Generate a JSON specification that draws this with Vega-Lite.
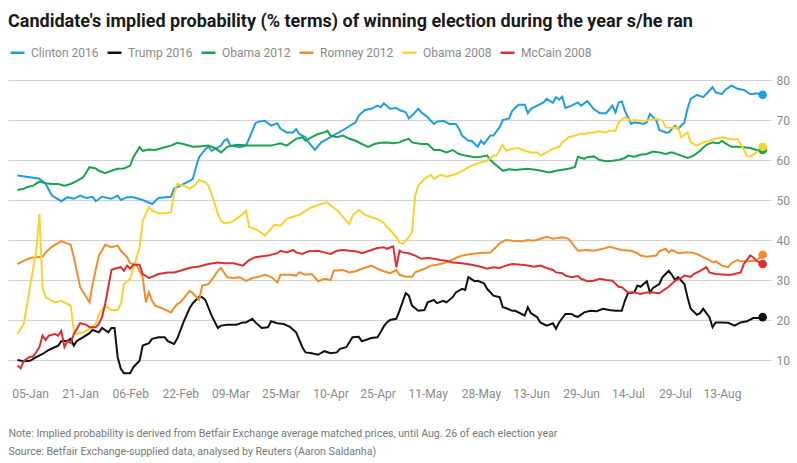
{
"$schema": "https://vega.github.io/schema/vega-lite/v6.json",
"width": 763, "height": 304,
"autosize": {"type": "none"},
"padding": {"left": 8, "top": 72, "right": 26, "bottom": 87},
"background": "white",
"config": {"view": {"stroke": null}, "font": "Roboto"},
"title": {"text": "Candidate's implied probability (% terms) of winning election during the year s/he ran", "anchor": "start", "frame": "group", "font": "Roboto", "fontSize": 18, "fontWeight": "bold", "color": "#1a1a1a", "offset": 13},
"data": {"values": [
{"series":"Clinton 2016","date":"2016-01-01","pct":56.1},{"series":"Clinton 2016","date":"2016-01-05","pct":55.7},{"series":"Clinton 2016","date":"2016-01-08","pct":55.3},{"series":"Clinton 2016","date":"2016-01-10","pct":54.0},{"series":"Clinton 2016","date":"2016-01-12","pct":51.1},{"series":"Clinton 2016","date":"2016-01-15","pct":49.7},{"series":"Clinton 2016","date":"2016-01-17","pct":50.7},{"series":"Clinton 2016","date":"2016-01-19","pct":50.3},{"series":"Clinton 2016","date":"2016-01-21","pct":51.1},{"series":"Clinton 2016","date":"2016-01-23","pct":50.5},{"series":"Clinton 2016","date":"2016-01-25","pct":50.8},{"series":"Clinton 2016","date":"2016-01-26","pct":49.7},{"series":"Clinton 2016","date":"2016-01-28","pct":50.8},{"series":"Clinton 2016","date":"2016-01-31","pct":50.3},{"series":"Clinton 2016","date":"2016-02-02","pct":51.1},{"series":"Clinton 2016","date":"2016-02-03","pct":50.0},{"series":"Clinton 2016","date":"2016-02-05","pct":50.7},{"series":"Clinton 2016","date":"2016-02-07","pct":50.7},{"series":"Clinton 2016","date":"2016-02-10","pct":50.0},{"series":"Clinton 2016","date":"2016-02-13","pct":49.0},{"series":"Clinton 2016","date":"2016-02-15","pct":50.5},{"series":"Clinton 2016","date":"2016-02-19","pct":50.8},{"series":"Clinton 2016","date":"2016-02-20","pct":52.8},{"series":"Clinton 2016","date":"2016-02-22","pct":53.6},{"series":"Clinton 2016","date":"2016-02-25","pct":54.8},{"series":"Clinton 2016","date":"2016-02-26","pct":55.3},{"series":"Clinton 2016","date":"2016-02-27","pct":58.2},{"series":"Clinton 2016","date":"2016-02-28","pct":60.7},{"series":"Clinton 2016","date":"2016-03-01","pct":62.7},{"series":"Clinton 2016","date":"2016-03-02","pct":63.3},{"series":"Clinton 2016","date":"2016-03-03","pct":62.3},{"series":"Clinton 2016","date":"2016-03-05","pct":63.1},{"series":"Clinton 2016","date":"2016-03-06","pct":63.6},{"series":"Clinton 2016","date":"2016-03-07","pct":64.8},{"series":"Clinton 2016","date":"2016-03-08","pct":65.2},{"series":"Clinton 2016","date":"2016-03-09","pct":63.6},{"series":"Clinton 2016","date":"2016-03-12","pct":63.2},{"series":"Clinton 2016","date":"2016-03-14","pct":63.6},{"series":"Clinton 2016","date":"2016-03-16","pct":67.3},{"series":"Clinton 2016","date":"2016-03-17","pct":69.2},{"series":"Clinton 2016","date":"2016-03-18","pct":69.6},{"series":"Clinton 2016","date":"2016-03-20","pct":69.8},{"series":"Clinton 2016","date":"2016-03-22","pct":68.6},{"series":"Clinton 2016","date":"2016-03-24","pct":69.2},{"series":"Clinton 2016","date":"2016-03-25","pct":67.8},{"series":"Clinton 2016","date":"2016-03-27","pct":66.9},{"series":"Clinton 2016","date":"2016-03-29","pct":66.9},{"series":"Clinton 2016","date":"2016-03-30","pct":67.7},{"series":"Clinton 2016","date":"2016-03-31","pct":66.5},{"series":"Clinton 2016","date":"2016-04-02","pct":65.7},{"series":"Clinton 2016","date":"2016-04-03","pct":64.4},{"series":"Clinton 2016","date":"2016-04-05","pct":62.5},{"series":"Clinton 2016","date":"2016-04-07","pct":64.4},{"series":"Clinton 2016","date":"2016-04-10","pct":65.7},{"series":"Clinton 2016","date":"2016-04-14","pct":67.5},{"series":"Clinton 2016","date":"2016-04-18","pct":69.4},{"series":"Clinton 2016","date":"2016-04-19","pct":71.1},{"series":"Clinton 2016","date":"2016-04-21","pct":72.5},{"series":"Clinton 2016","date":"2016-04-23","pct":72.8},{"series":"Clinton 2016","date":"2016-04-25","pct":73.6},{"series":"Clinton 2016","date":"2016-04-26","pct":73.2},{"series":"Clinton 2016","date":"2016-04-27","pct":74.2},{"series":"Clinton 2016","date":"2016-04-29","pct":72.8},{"series":"Clinton 2016","date":"2016-05-01","pct":73.0},{"series":"Clinton 2016","date":"2016-05-02","pct":72.5},{"series":"Clinton 2016","date":"2016-05-04","pct":71.9},{"series":"Clinton 2016","date":"2016-05-05","pct":70.4},{"series":"Clinton 2016","date":"2016-05-06","pct":71.1},{"series":"Clinton 2016","date":"2016-05-08","pct":72.8},{"series":"Clinton 2016","date":"2016-05-09","pct":71.9},{"series":"Clinton 2016","date":"2016-05-11","pct":70.7},{"series":"Clinton 2016","date":"2016-05-13","pct":69.0},{"series":"Clinton 2016","date":"2016-05-14","pct":69.6},{"series":"Clinton 2016","date":"2016-05-16","pct":69.8},{"series":"Clinton 2016","date":"2016-05-18","pct":69.0},{"series":"Clinton 2016","date":"2016-05-20","pct":69.0},{"series":"Clinton 2016","date":"2016-05-21","pct":67.8},{"series":"Clinton 2016","date":"2016-05-22","pct":66.1},{"series":"Clinton 2016","date":"2016-05-24","pct":64.8},{"series":"Clinton 2016","date":"2016-05-25","pct":64.8},{"series":"Clinton 2016","date":"2016-05-27","pct":63.3},{"series":"Clinton 2016","date":"2016-05-28","pct":64.8},{"series":"Clinton 2016","date":"2016-05-29","pct":64.0},{"series":"Clinton 2016","date":"2016-05-31","pct":66.1},{"series":"Clinton 2016","date":"2016-06-01","pct":66.1},{"series":"Clinton 2016","date":"2016-06-03","pct":68.2},{"series":"Clinton 2016","date":"2016-06-04","pct":70.0},{"series":"Clinton 2016","date":"2016-06-06","pct":70.4},{"series":"Clinton 2016","date":"2016-06-07","pct":72.3},{"series":"Clinton 2016","date":"2016-06-09","pct":73.8},{"series":"Clinton 2016","date":"2016-06-11","pct":73.8},{"series":"Clinton 2016","date":"2016-06-12","pct":71.7},{"series":"Clinton 2016","date":"2016-06-13","pct":72.8},{"series":"Clinton 2016","date":"2016-06-15","pct":73.6},{"series":"Clinton 2016","date":"2016-06-17","pct":74.4},{"series":"Clinton 2016","date":"2016-06-18","pct":75.3},{"series":"Clinton 2016","date":"2016-06-20","pct":74.3},{"series":"Clinton 2016","date":"2016-06-21","pct":75.7},{"series":"Clinton 2016","date":"2016-06-22","pct":75.1},{"series":"Clinton 2016","date":"2016-06-23","pct":75.8},{"series":"Clinton 2016","date":"2016-06-24","pct":73.0},{"series":"Clinton 2016","date":"2016-06-26","pct":73.6},{"series":"Clinton 2016","date":"2016-06-28","pct":74.4},{"series":"Clinton 2016","date":"2016-06-29","pct":73.6},{"series":"Clinton 2016","date":"2016-07-01","pct":74.7},{"series":"Clinton 2016","date":"2016-07-03","pct":72.8},{"series":"Clinton 2016","date":"2016-07-05","pct":71.7},{"series":"Clinton 2016","date":"2016-07-07","pct":71.7},{"series":"Clinton 2016","date":"2016-07-09","pct":73.6},{"series":"Clinton 2016","date":"2016-07-10","pct":71.9},{"series":"Clinton 2016","date":"2016-07-11","pct":74.4},{"series":"Clinton 2016","date":"2016-07-12","pct":74.7},{"series":"Clinton 2016","date":"2016-07-13","pct":72.3},{"series":"Clinton 2016","date":"2016-07-15","pct":69.0},{"series":"Clinton 2016","date":"2016-07-16","pct":69.4},{"series":"Clinton 2016","date":"2016-07-18","pct":69.2},{"series":"Clinton 2016","date":"2016-07-19","pct":69.0},{"series":"Clinton 2016","date":"2016-07-20","pct":69.4},{"series":"Clinton 2016","date":"2016-07-21","pct":71.5},{"series":"Clinton 2016","date":"2016-07-23","pct":70.0},{"series":"Clinton 2016","date":"2016-07-24","pct":67.5},{"series":"Clinton 2016","date":"2016-07-26","pct":66.9},{"series":"Clinton 2016","date":"2016-07-27","pct":66.9},{"series":"Clinton 2016","date":"2016-07-29","pct":68.6},{"series":"Clinton 2016","date":"2016-07-30","pct":67.8},{"series":"Clinton 2016","date":"2016-08-01","pct":69.4},{"series":"Clinton 2016","date":"2016-08-02","pct":72.8},{"series":"Clinton 2016","date":"2016-08-03","pct":75.3},{"series":"Clinton 2016","date":"2016-08-05","pct":76.3},{"series":"Clinton 2016","date":"2016-08-07","pct":75.7},{"series":"Clinton 2016","date":"2016-08-08","pct":76.5},{"series":"Clinton 2016","date":"2016-08-10","pct":78.2},{"series":"Clinton 2016","date":"2016-08-11","pct":76.9},{"series":"Clinton 2016","date":"2016-08-13","pct":76.5},{"series":"Clinton 2016","date":"2016-08-14","pct":77.5},{"series":"Clinton 2016","date":"2016-08-16","pct":78.6},{"series":"Clinton 2016","date":"2016-08-18","pct":77.8},{"series":"Clinton 2016","date":"2016-08-20","pct":77.5},{"series":"Clinton 2016","date":"2016-08-22","pct":76.5},{"series":"Clinton 2016","date":"2016-08-23","pct":76.5},{"series":"Clinton 2016","date":"2016-08-24","pct":76.7},{"series":"Clinton 2016","date":"2016-08-26","pct":76.3},
{"series":"Trump 2016","date":"2016-01-01","pct":10.0},{"series":"Trump 2016","date":"2016-01-03","pct":9.7},{"series":"Trump 2016","date":"2016-01-05","pct":9.8},{"series":"Trump 2016","date":"2016-01-07","pct":10.7},{"series":"Trump 2016","date":"2016-01-09","pct":11.5},{"series":"Trump 2016","date":"2016-01-11","pct":12.5},{"series":"Trump 2016","date":"2016-01-14","pct":13.6},{"series":"Trump 2016","date":"2016-01-15","pct":14.7},{"series":"Trump 2016","date":"2016-01-17","pct":14.8},{"series":"Trump 2016","date":"2016-01-18","pct":15.3},{"series":"Trump 2016","date":"2016-01-19","pct":13.6},{"series":"Trump 2016","date":"2016-01-20","pct":14.8},{"series":"Trump 2016","date":"2016-01-22","pct":15.7},{"series":"Trump 2016","date":"2016-01-24","pct":16.7},{"series":"Trump 2016","date":"2016-01-25","pct":17.5},{"series":"Trump 2016","date":"2016-01-27","pct":16.9},{"series":"Trump 2016","date":"2016-01-28","pct":18.0},{"series":"Trump 2016","date":"2016-01-30","pct":16.9},{"series":"Trump 2016","date":"2016-01-31","pct":18.0},{"series":"Trump 2016","date":"2016-02-01","pct":18.0},{"series":"Trump 2016","date":"2016-02-02","pct":10.7},{"series":"Trump 2016","date":"2016-02-03","pct":7.8},{"series":"Trump 2016","date":"2016-02-04","pct":6.7},{"series":"Trump 2016","date":"2016-02-06","pct":6.7},{"series":"Trump 2016","date":"2016-02-07","pct":8.2},{"series":"Trump 2016","date":"2016-02-09","pct":9.8},{"series":"Trump 2016","date":"2016-02-10","pct":13.6},{"series":"Trump 2016","date":"2016-02-12","pct":14.2},{"series":"Trump 2016","date":"2016-02-13","pct":15.3},{"series":"Trump 2016","date":"2016-02-15","pct":15.7},{"series":"Trump 2016","date":"2016-02-17","pct":15.7},{"series":"Trump 2016","date":"2016-02-18","pct":14.7},{"series":"Trump 2016","date":"2016-02-20","pct":14.0},{"series":"Trump 2016","date":"2016-02-21","pct":15.3},{"series":"Trump 2016","date":"2016-02-23","pct":19.4},{"series":"Trump 2016","date":"2016-02-25","pct":23.0},{"series":"Trump 2016","date":"2016-02-26","pct":24.2},{"series":"Trump 2016","date":"2016-02-27","pct":25.0},{"series":"Trump 2016","date":"2016-02-28","pct":25.8},{"series":"Trump 2016","date":"2016-02-29","pct":25.7},{"series":"Trump 2016","date":"2016-03-01","pct":25.0},{"series":"Trump 2016","date":"2016-03-03","pct":21.1},{"series":"Trump 2016","date":"2016-03-05","pct":18.0},{"series":"Trump 2016","date":"2016-03-06","pct":18.6},{"series":"Trump 2016","date":"2016-03-08","pct":18.8},{"series":"Trump 2016","date":"2016-03-11","pct":18.8},{"series":"Trump 2016","date":"2016-03-13","pct":19.4},{"series":"Trump 2016","date":"2016-03-14","pct":19.4},{"series":"Trump 2016","date":"2016-03-16","pct":20.3},{"series":"Trump 2016","date":"2016-03-17","pct":19.4},{"series":"Trump 2016","date":"2016-03-19","pct":18.0},{"series":"Trump 2016","date":"2016-03-21","pct":18.2},{"series":"Trump 2016","date":"2016-03-22","pct":19.7},{"series":"Trump 2016","date":"2016-03-24","pct":19.2},{"series":"Trump 2016","date":"2016-03-26","pct":19.0},{"series":"Trump 2016","date":"2016-03-28","pct":18.3},{"series":"Trump 2016","date":"2016-03-30","pct":16.9},{"series":"Trump 2016","date":"2016-04-01","pct":13.2},{"series":"Trump 2016","date":"2016-04-02","pct":11.9},{"series":"Trump 2016","date":"2016-04-04","pct":11.7},{"series":"Trump 2016","date":"2016-04-06","pct":11.3},{"series":"Trump 2016","date":"2016-04-08","pct":12.2},{"series":"Trump 2016","date":"2016-04-10","pct":11.7},{"series":"Trump 2016","date":"2016-04-12","pct":11.9},{"series":"Trump 2016","date":"2016-04-13","pct":12.8},{"series":"Trump 2016","date":"2016-04-15","pct":13.2},{"series":"Trump 2016","date":"2016-04-17","pct":15.7},{"series":"Trump 2016","date":"2016-04-19","pct":15.8},{"series":"Trump 2016","date":"2016-04-20","pct":14.7},{"series":"Trump 2016","date":"2016-04-23","pct":15.5},{"series":"Trump 2016","date":"2016-04-25","pct":15.7},{"series":"Trump 2016","date":"2016-04-26","pct":17.0},{"series":"Trump 2016","date":"2016-04-27","pct":18.4},{"series":"Trump 2016","date":"2016-04-28","pct":19.4},{"series":"Trump 2016","date":"2016-04-29","pct":20.0},{"series":"Trump 2016","date":"2016-05-01","pct":20.3},{"series":"Trump 2016","date":"2016-05-02","pct":22.3},{"series":"Trump 2016","date":"2016-05-04","pct":26.7},{"series":"Trump 2016","date":"2016-05-05","pct":26.1},{"series":"Trump 2016","date":"2016-05-06","pct":23.6},{"series":"Trump 2016","date":"2016-05-08","pct":22.3},{"series":"Trump 2016","date":"2016-05-10","pct":22.5},{"series":"Trump 2016","date":"2016-05-11","pct":24.4},{"series":"Trump 2016","date":"2016-05-13","pct":25.0},{"series":"Trump 2016","date":"2016-05-14","pct":24.2},{"series":"Trump 2016","date":"2016-05-16","pct":24.8},{"series":"Trump 2016","date":"2016-05-17","pct":24.4},{"series":"Trump 2016","date":"2016-05-19","pct":25.7},{"series":"Trump 2016","date":"2016-05-20","pct":26.9},{"series":"Trump 2016","date":"2016-05-22","pct":27.8},{"series":"Trump 2016","date":"2016-05-23","pct":27.5},{"series":"Trump 2016","date":"2016-05-24","pct":30.7},{"series":"Trump 2016","date":"2016-05-26","pct":29.7},{"series":"Trump 2016","date":"2016-05-27","pct":29.8},{"series":"Trump 2016","date":"2016-05-29","pct":29.2},{"series":"Trump 2016","date":"2016-05-30","pct":27.8},{"series":"Trump 2016","date":"2016-06-01","pct":26.1},{"series":"Trump 2016","date":"2016-06-03","pct":25.7},{"series":"Trump 2016","date":"2016-06-04","pct":23.2},{"series":"Trump 2016","date":"2016-06-05","pct":23.0},{"series":"Trump 2016","date":"2016-06-07","pct":22.3},{"series":"Trump 2016","date":"2016-06-08","pct":22.3},{"series":"Trump 2016","date":"2016-06-10","pct":21.5},{"series":"Trump 2016","date":"2016-06-11","pct":21.1},{"series":"Trump 2016","date":"2016-06-12","pct":23.2},{"series":"Trump 2016","date":"2016-06-13","pct":21.7},{"series":"Trump 2016","date":"2016-06-15","pct":20.7},{"series":"Trump 2016","date":"2016-06-16","pct":19.4},{"series":"Trump 2016","date":"2016-06-18","pct":18.6},{"series":"Trump 2016","date":"2016-06-20","pct":19.2},{"series":"Trump 2016","date":"2016-06-21","pct":17.8},{"series":"Trump 2016","date":"2016-06-22","pct":19.4},{"series":"Trump 2016","date":"2016-06-24","pct":21.5},{"series":"Trump 2016","date":"2016-06-26","pct":21.5},{"series":"Trump 2016","date":"2016-06-27","pct":21.0},{"series":"Trump 2016","date":"2016-06-28","pct":20.8},{"series":"Trump 2016","date":"2016-06-30","pct":21.9},{"series":"Trump 2016","date":"2016-07-02","pct":22.3},{"series":"Trump 2016","date":"2016-07-04","pct":22.2},{"series":"Trump 2016","date":"2016-07-06","pct":22.8},{"series":"Trump 2016","date":"2016-07-08","pct":22.5},{"series":"Trump 2016","date":"2016-07-10","pct":22.3},{"series":"Trump 2016","date":"2016-07-12","pct":22.3},{"series":"Trump 2016","date":"2016-07-13","pct":24.8},{"series":"Trump 2016","date":"2016-07-14","pct":26.7},{"series":"Trump 2016","date":"2016-07-16","pct":26.9},{"series":"Trump 2016","date":"2016-07-17","pct":28.6},{"series":"Trump 2016","date":"2016-07-18","pct":28.3},{"series":"Trump 2016","date":"2016-07-19","pct":29.0},{"series":"Trump 2016","date":"2016-07-20","pct":29.7},{"series":"Trump 2016","date":"2016-07-21","pct":26.9},{"series":"Trump 2016","date":"2016-07-22","pct":28.0},{"series":"Trump 2016","date":"2016-07-24","pct":29.0},{"series":"Trump 2016","date":"2016-07-25","pct":30.7},{"series":"Trump 2016","date":"2016-07-26","pct":31.5},{"series":"Trump 2016","date":"2016-07-27","pct":32.3},{"series":"Trump 2016","date":"2016-07-28","pct":31.3},{"series":"Trump 2016","date":"2016-07-29","pct":30.0},{"series":"Trump 2016","date":"2016-07-30","pct":30.7},{"series":"Trump 2016","date":"2016-08-01","pct":29.0},{"series":"Trump 2016","date":"2016-08-02","pct":25.7},{"series":"Trump 2016","date":"2016-08-03","pct":22.8},{"series":"Trump 2016","date":"2016-08-05","pct":21.3},{"series":"Trump 2016","date":"2016-08-06","pct":21.7},{"series":"Trump 2016","date":"2016-08-07","pct":22.8},{"series":"Trump 2016","date":"2016-08-09","pct":20.7},{"series":"Trump 2016","date":"2016-08-10","pct":18.2},{"series":"Trump 2016","date":"2016-08-11","pct":19.4},{"series":"Trump 2016","date":"2016-08-13","pct":19.4},{"series":"Trump 2016","date":"2016-08-15","pct":19.3},{"series":"Trump 2016","date":"2016-08-17","pct":18.6},{"series":"Trump 2016","date":"2016-08-19","pct":19.4},{"series":"Trump 2016","date":"2016-08-21","pct":19.7},{"series":"Trump 2016","date":"2016-08-23","pct":20.5},{"series":"Trump 2016","date":"2016-08-25","pct":20.5},{"series":"Trump 2016","date":"2016-08-26","pct":20.7},
{"series":"Obama 2012","date":"2016-01-01","pct":52.5},{"series":"Obama 2012","date":"2016-01-03","pct":52.8},{"series":"Obama 2012","date":"2016-01-04","pct":53.2},{"series":"Obama 2012","date":"2016-01-06","pct":53.6},{"series":"Obama 2012","date":"2016-01-08","pct":54.6},{"series":"Obama 2012","date":"2016-01-10","pct":54.2},{"series":"Obama 2012","date":"2016-01-12","pct":54.0},{"series":"Obama 2012","date":"2016-01-14","pct":54.0},{"series":"Obama 2012","date":"2016-01-16","pct":53.6},{"series":"Obama 2012","date":"2016-01-18","pct":54.0},{"series":"Obama 2012","date":"2016-01-20","pct":54.8},{"series":"Obama 2012","date":"2016-01-22","pct":55.7},{"series":"Obama 2012","date":"2016-01-24","pct":58.2},{"series":"Obama 2012","date":"2016-01-26","pct":57.9},{"series":"Obama 2012","date":"2016-01-27","pct":57.3},{"series":"Obama 2012","date":"2016-01-29","pct":56.7},{"series":"Obama 2012","date":"2016-01-31","pct":57.3},{"series":"Obama 2012","date":"2016-02-02","pct":57.8},{"series":"Obama 2012","date":"2016-02-04","pct":57.9},{"series":"Obama 2012","date":"2016-02-06","pct":58.6},{"series":"Obama 2012","date":"2016-02-07","pct":60.7},{"series":"Obama 2012","date":"2016-02-09","pct":63.2},{"series":"Obama 2012","date":"2016-02-10","pct":62.3},{"series":"Obama 2012","date":"2016-02-12","pct":62.6},{"series":"Obama 2012","date":"2016-02-14","pct":62.5},{"series":"Obama 2012","date":"2016-02-17","pct":63.2},{"series":"Obama 2012","date":"2016-02-19","pct":63.6},{"series":"Obama 2012","date":"2016-02-21","pct":64.3},{"series":"Obama 2012","date":"2016-02-23","pct":64.0},{"series":"Obama 2012","date":"2016-02-26","pct":63.3},{"series":"Obama 2012","date":"2016-02-28","pct":63.4},{"series":"Obama 2012","date":"2016-03-02","pct":63.6},{"series":"Obama 2012","date":"2016-03-04","pct":63.0},{"series":"Obama 2012","date":"2016-03-06","pct":61.9},{"series":"Obama 2012","date":"2016-03-08","pct":63.3},{"series":"Obama 2012","date":"2016-03-11","pct":63.8},{"series":"Obama 2012","date":"2016-03-15","pct":63.6},{"series":"Obama 2012","date":"2016-03-18","pct":63.6},{"series":"Obama 2012","date":"2016-03-22","pct":63.6},{"series":"Obama 2012","date":"2016-03-25","pct":64.2},{"series":"Obama 2012","date":"2016-03-27","pct":63.6},{"series":"Obama 2012","date":"2016-03-30","pct":65.3},{"series":"Obama 2012","date":"2016-04-01","pct":65.7},{"series":"Obama 2012","date":"2016-04-02","pct":64.8},{"series":"Obama 2012","date":"2016-04-04","pct":65.7},{"series":"Obama 2012","date":"2016-04-06","pct":66.5},{"series":"Obama 2012","date":"2016-04-08","pct":66.9},{"series":"Obama 2012","date":"2016-04-09","pct":67.3},{"series":"Obama 2012","date":"2016-04-10","pct":66.1},{"series":"Obama 2012","date":"2016-04-12","pct":65.7},{"series":"Obama 2012","date":"2016-04-14","pct":66.1},{"series":"Obama 2012","date":"2016-04-16","pct":65.3},{"series":"Obama 2012","date":"2016-04-18","pct":64.8},{"series":"Obama 2012","date":"2016-04-20","pct":64.0},{"series":"Obama 2012","date":"2016-04-22","pct":63.3},{"series":"Obama 2012","date":"2016-04-24","pct":64.0},{"series":"Obama 2012","date":"2016-04-26","pct":64.3},{"series":"Obama 2012","date":"2016-04-28","pct":64.4},{"series":"Obama 2012","date":"2016-04-30","pct":64.2},{"series":"Obama 2012","date":"2016-05-02","pct":64.4},{"series":"Obama 2012","date":"2016-05-03","pct":64.8},{"series":"Obama 2012","date":"2016-05-05","pct":65.3},{"series":"Obama 2012","date":"2016-05-06","pct":64.4},{"series":"Obama 2012","date":"2016-05-09","pct":64.0},{"series":"Obama 2012","date":"2016-05-11","pct":64.0},{"series":"Obama 2012","date":"2016-05-13","pct":62.5},{"series":"Obama 2012","date":"2016-05-15","pct":62.5},{"series":"Obama 2012","date":"2016-05-17","pct":61.9},{"series":"Obama 2012","date":"2016-05-19","pct":62.5},{"series":"Obama 2012","date":"2016-05-21","pct":61.5},{"series":"Obama 2012","date":"2016-05-23","pct":61.1},{"series":"Obama 2012","date":"2016-05-26","pct":60.7},{"series":"Obama 2012","date":"2016-05-28","pct":60.8},{"series":"Obama 2012","date":"2016-05-30","pct":61.1},{"series":"Obama 2012","date":"2016-05-31","pct":60.0},{"series":"Obama 2012","date":"2016-06-02","pct":58.6},{"series":"Obama 2012","date":"2016-06-04","pct":57.3},{"series":"Obama 2012","date":"2016-06-06","pct":57.7},{"series":"Obama 2012","date":"2016-06-08","pct":57.5},{"series":"Obama 2012","date":"2016-06-12","pct":57.8},{"series":"Obama 2012","date":"2016-06-15","pct":57.5},{"series":"Obama 2012","date":"2016-06-19","pct":56.9},{"series":"Obama 2012","date":"2016-06-21","pct":57.3},{"series":"Obama 2012","date":"2016-06-25","pct":57.8},{"series":"Obama 2012","date":"2016-06-27","pct":58.2},{"series":"Obama 2012","date":"2016-06-28","pct":60.8},{"series":"Obama 2012","date":"2016-06-30","pct":60.3},{"series":"Obama 2012","date":"2016-07-01","pct":60.7},{"series":"Obama 2012","date":"2016-07-03","pct":60.9},{"series":"Obama 2012","date":"2016-07-05","pct":60.0},{"series":"Obama 2012","date":"2016-07-07","pct":59.7},{"series":"Obama 2012","date":"2016-07-09","pct":59.8},{"series":"Obama 2012","date":"2016-07-11","pct":60.0},{"series":"Obama 2012","date":"2016-07-13","pct":60.5},{"series":"Obama 2012","date":"2016-07-14","pct":61.1},{"series":"Obama 2012","date":"2016-07-16","pct":60.8},{"series":"Obama 2012","date":"2016-07-18","pct":61.3},{"series":"Obama 2012","date":"2016-07-20","pct":61.5},{"series":"Obama 2012","date":"2016-07-22","pct":62.1},{"series":"Obama 2012","date":"2016-07-24","pct":61.9},{"series":"Obama 2012","date":"2016-07-26","pct":61.5},{"series":"Obama 2012","date":"2016-07-28","pct":61.9},{"series":"Obama 2012","date":"2016-07-31","pct":61.1},{"series":"Obama 2012","date":"2016-08-02","pct":60.5},{"series":"Obama 2012","date":"2016-08-04","pct":61.1},{"series":"Obama 2012","date":"2016-08-06","pct":62.3},{"series":"Obama 2012","date":"2016-08-08","pct":63.8},{"series":"Obama 2012","date":"2016-08-10","pct":64.4},{"series":"Obama 2012","date":"2016-08-12","pct":64.2},{"series":"Obama 2012","date":"2016-08-13","pct":64.8},{"series":"Obama 2012","date":"2016-08-14","pct":64.2},{"series":"Obama 2012","date":"2016-08-16","pct":63.3},{"series":"Obama 2012","date":"2016-08-18","pct":63.3},{"series":"Obama 2012","date":"2016-08-20","pct":63.2},{"series":"Obama 2012","date":"2016-08-22","pct":63.0},{"series":"Obama 2012","date":"2016-08-24","pct":62.5},{"series":"Obama 2012","date":"2016-08-26","pct":62.5},
{"series":"Romney 2012","date":"2016-01-01","pct":34.0},{"series":"Romney 2012","date":"2016-01-03","pct":34.8},{"series":"Romney 2012","date":"2016-01-05","pct":35.5},{"series":"Romney 2012","date":"2016-01-07","pct":35.7},{"series":"Romney 2012","date":"2016-01-09","pct":35.8},{"series":"Romney 2012","date":"2016-01-10","pct":36.9},{"series":"Romney 2012","date":"2016-01-12","pct":38.3},{"series":"Romney 2012","date":"2016-01-13","pct":38.8},{"series":"Romney 2012","date":"2016-01-15","pct":39.7},{"series":"Romney 2012","date":"2016-01-16","pct":39.4},{"series":"Romney 2012","date":"2016-01-18","pct":38.8},{"series":"Romney 2012","date":"2016-01-19","pct":35.7},{"series":"Romney 2012","date":"2016-01-21","pct":28.2},{"series":"Romney 2012","date":"2016-01-23","pct":25.7},{"series":"Romney 2012","date":"2016-01-24","pct":24.4},{"series":"Romney 2012","date":"2016-01-25","pct":29.0},{"series":"Romney 2012","date":"2016-01-27","pct":36.1},{"series":"Romney 2012","date":"2016-01-29","pct":38.8},{"series":"Romney 2012","date":"2016-01-31","pct":38.2},{"series":"Romney 2012","date":"2016-02-02","pct":38.6},{"series":"Romney 2012","date":"2016-02-03","pct":37.3},{"series":"Romney 2012","date":"2016-02-05","pct":35.7},{"series":"Romney 2012","date":"2016-02-06","pct":34.2},{"series":"Romney 2012","date":"2016-02-08","pct":33.8},{"series":"Romney 2012","date":"2016-02-10","pct":30.7},{"series":"Romney 2012","date":"2016-02-11","pct":24.4},{"series":"Romney 2012","date":"2016-02-12","pct":26.9},{"series":"Romney 2012","date":"2016-02-13","pct":24.8},{"series":"Romney 2012","date":"2016-02-14","pct":23.6},{"series":"Romney 2012","date":"2016-02-16","pct":23.0},{"series":"Romney 2012","date":"2016-02-18","pct":22.3},{"series":"Romney 2012","date":"2016-02-19","pct":21.9},{"series":"Romney 2012","date":"2016-02-21","pct":24.0},{"series":"Romney 2012","date":"2016-02-22","pct":24.4},{"series":"Romney 2012","date":"2016-02-25","pct":27.3},{"series":"Romney 2012","date":"2016-02-26","pct":26.7},{"series":"Romney 2012","date":"2016-02-28","pct":25.0},{"series":"Romney 2012","date":"2016-02-29","pct":28.6},{"series":"Romney 2012","date":"2016-03-02","pct":29.0},{"series":"Romney 2012","date":"2016-03-04","pct":31.1},{"series":"Romney 2012","date":"2016-03-05","pct":32.3},{"series":"Romney 2012","date":"2016-03-06","pct":33.0},{"series":"Romney 2012","date":"2016-03-08","pct":30.7},{"series":"Romney 2012","date":"2016-03-10","pct":30.5},{"series":"Romney 2012","date":"2016-03-12","pct":30.7},{"series":"Romney 2012","date":"2016-03-14","pct":29.8},{"series":"Romney 2012","date":"2016-03-16","pct":30.5},{"series":"Romney 2012","date":"2016-03-18","pct":30.8},{"series":"Romney 2012","date":"2016-03-20","pct":31.3},{"series":"Romney 2012","date":"2016-03-22","pct":30.8},{"series":"Romney 2012","date":"2016-03-24","pct":29.4},{"series":"Romney 2012","date":"2016-03-25","pct":31.3},{"series":"Romney 2012","date":"2016-03-28","pct":31.3},{"series":"Romney 2012","date":"2016-03-30","pct":31.1},{"series":"Romney 2012","date":"2016-03-31","pct":31.9},{"series":"Romney 2012","date":"2016-04-02","pct":31.3},{"series":"Romney 2012","date":"2016-04-04","pct":31.5},{"series":"Romney 2012","date":"2016-04-06","pct":29.7},{"series":"Romney 2012","date":"2016-04-08","pct":30.3},{"series":"Romney 2012","date":"2016-04-10","pct":30.0},{"series":"Romney 2012","date":"2016-04-11","pct":32.3},{"series":"Romney 2012","date":"2016-04-14","pct":32.5},{"series":"Romney 2012","date":"2016-04-16","pct":31.9},{"series":"Romney 2012","date":"2016-04-18","pct":32.2},{"series":"Romney 2012","date":"2016-04-20","pct":32.8},{"series":"Romney 2012","date":"2016-04-22","pct":33.3},{"series":"Romney 2012","date":"2016-04-23","pct":33.6},{"series":"Romney 2012","date":"2016-04-25","pct":32.8},{"series":"Romney 2012","date":"2016-04-27","pct":32.2},{"series":"Romney 2012","date":"2016-04-29","pct":31.7},{"series":"Romney 2012","date":"2016-05-01","pct":32.5},{"series":"Romney 2012","date":"2016-05-02","pct":31.3},{"series":"Romney 2012","date":"2016-05-04","pct":30.8},{"series":"Romney 2012","date":"2016-05-06","pct":30.8},{"series":"Romney 2012","date":"2016-05-07","pct":31.9},{"series":"Romney 2012","date":"2016-05-10","pct":32.8},{"series":"Romney 2012","date":"2016-05-12","pct":33.6},{"series":"Romney 2012","date":"2016-05-14","pct":33.8},{"series":"Romney 2012","date":"2016-05-16","pct":34.2},{"series":"Romney 2012","date":"2016-05-18","pct":34.8},{"series":"Romney 2012","date":"2016-05-20","pct":35.5},{"series":"Romney 2012","date":"2016-05-22","pct":36.1},{"series":"Romney 2012","date":"2016-05-25","pct":36.5},{"series":"Romney 2012","date":"2016-05-27","pct":36.7},{"series":"Romney 2012","date":"2016-05-29","pct":36.8},{"series":"Romney 2012","date":"2016-05-31","pct":36.9},{"series":"Romney 2012","date":"2016-06-02","pct":38.3},{"series":"Romney 2012","date":"2016-06-03","pct":39.2},{"series":"Romney 2012","date":"2016-06-05","pct":40.0},{"series":"Romney 2012","date":"2016-06-07","pct":39.8},{"series":"Romney 2012","date":"2016-06-10","pct":39.7},{"series":"Romney 2012","date":"2016-06-12","pct":40.0},{"series":"Romney 2012","date":"2016-06-14","pct":39.8},{"series":"Romney 2012","date":"2016-06-16","pct":40.3},{"series":"Romney 2012","date":"2016-06-18","pct":40.8},{"series":"Romney 2012","date":"2016-06-20","pct":40.3},{"series":"Romney 2012","date":"2016-06-23","pct":40.7},{"series":"Romney 2012","date":"2016-06-25","pct":40.3},{"series":"Romney 2012","date":"2016-06-27","pct":38.3},{"series":"Romney 2012","date":"2016-06-28","pct":37.3},{"series":"Romney 2012","date":"2016-07-01","pct":37.5},{"series":"Romney 2012","date":"2016-07-03","pct":37.3},{"series":"Romney 2012","date":"2016-07-06","pct":37.8},{"series":"Romney 2012","date":"2016-07-08","pct":38.3},{"series":"Romney 2012","date":"2016-07-10","pct":37.9},{"series":"Romney 2012","date":"2016-07-12","pct":37.5},{"series":"Romney 2012","date":"2016-07-15","pct":37.3},{"series":"Romney 2012","date":"2016-07-17","pct":36.7},{"series":"Romney 2012","date":"2016-07-18","pct":36.1},{"series":"Romney 2012","date":"2016-07-20","pct":35.8},{"series":"Romney 2012","date":"2016-07-23","pct":36.1},{"series":"Romney 2012","date":"2016-07-24","pct":37.2},{"series":"Romney 2012","date":"2016-07-26","pct":37.8},{"series":"Romney 2012","date":"2016-07-27","pct":36.9},{"series":"Romney 2012","date":"2016-07-28","pct":37.5},{"series":"Romney 2012","date":"2016-07-30","pct":36.7},{"series":"Romney 2012","date":"2016-08-01","pct":36.9},{"series":"Romney 2012","date":"2016-08-03","pct":36.9},{"series":"Romney 2012","date":"2016-08-05","pct":36.5},{"series":"Romney 2012","date":"2016-08-07","pct":35.7},{"series":"Romney 2012","date":"2016-08-09","pct":35.0},{"series":"Romney 2012","date":"2016-08-10","pct":34.4},{"series":"Romney 2012","date":"2016-08-11","pct":34.7},{"series":"Romney 2012","date":"2016-08-13","pct":33.6},{"series":"Romney 2012","date":"2016-08-15","pct":33.2},{"series":"Romney 2012","date":"2016-08-16","pct":34.2},{"series":"Romney 2012","date":"2016-08-18","pct":35.0},{"series":"Romney 2012","date":"2016-08-19","pct":34.7},{"series":"Romney 2012","date":"2016-08-21","pct":34.7},{"series":"Romney 2012","date":"2016-08-23","pct":34.8},{"series":"Romney 2012","date":"2016-08-24","pct":34.8},{"series":"Romney 2012","date":"2016-08-26","pct":36.3},
{"series":"Obama 2008","date":"2016-01-01","pct":16.5},{"series":"Obama 2008","date":"2016-01-03","pct":19.0},{"series":"Obama 2008","date":"2016-01-05","pct":28.2},{"series":"Obama 2008","date":"2016-01-07","pct":37.3},{"series":"Obama 2008","date":"2016-01-08","pct":46.5},{"series":"Obama 2008","date":"2016-01-09","pct":28.2},{"series":"Obama 2008","date":"2016-01-10","pct":25.7},{"series":"Obama 2008","date":"2016-01-12","pct":24.8},{"series":"Obama 2008","date":"2016-01-13","pct":24.4},{"series":"Obama 2008","date":"2016-01-15","pct":24.8},{"series":"Obama 2008","date":"2016-01-17","pct":24.0},{"series":"Obama 2008","date":"2016-01-18","pct":23.6},{"series":"Obama 2008","date":"2016-01-19","pct":17.3},{"series":"Obama 2008","date":"2016-01-20","pct":16.5},{"series":"Obama 2008","date":"2016-01-22","pct":16.9},{"series":"Obama 2008","date":"2016-01-24","pct":17.8},{"series":"Obama 2008","date":"2016-01-26","pct":19.0},{"series":"Obama 2008","date":"2016-01-27","pct":21.5},{"series":"Obama 2008","date":"2016-01-29","pct":23.6},{"series":"Obama 2008","date":"2016-01-31","pct":22.5},{"series":"Obama 2008","date":"2016-02-02","pct":22.5},{"series":"Obama 2008","date":"2016-02-03","pct":24.0},{"series":"Obama 2008","date":"2016-02-04","pct":29.0},{"series":"Obama 2008","date":"2016-02-06","pct":30.3},{"series":"Obama 2008","date":"2016-02-07","pct":32.8},{"series":"Obama 2008","date":"2016-02-09","pct":38.2},{"series":"Obama 2008","date":"2016-02-10","pct":44.8},{"series":"Obama 2008","date":"2016-02-12","pct":48.3},{"series":"Obama 2008","date":"2016-02-13","pct":47.3},{"series":"Obama 2008","date":"2016-02-15","pct":46.7},{"series":"Obama 2008","date":"2016-02-17","pct":46.7},{"series":"Obama 2008","date":"2016-02-19","pct":46.9},{"series":"Obama 2008","date":"2016-02-20","pct":51.5},{"series":"Obama 2008","date":"2016-02-21","pct":54.0},{"series":"Obama 2008","date":"2016-02-23","pct":53.6},{"series":"Obama 2008","date":"2016-02-25","pct":52.8},{"series":"Obama 2008","date":"2016-02-27","pct":54.0},{"series":"Obama 2008","date":"2016-02-28","pct":55.0},{"series":"Obama 2008","date":"2016-03-01","pct":54.4},{"series":"Obama 2008","date":"2016-03-02","pct":53.5},{"series":"Obama 2008","date":"2016-03-03","pct":51.5},{"series":"Obama 2008","date":"2016-03-04","pct":49.0},{"series":"Obama 2008","date":"2016-03-05","pct":46.5},{"series":"Obama 2008","date":"2016-03-06","pct":44.8},{"series":"Obama 2008","date":"2016-03-07","pct":44.2},{"series":"Obama 2008","date":"2016-03-09","pct":44.4},{"series":"Obama 2008","date":"2016-03-10","pct":44.8},{"series":"Obama 2008","date":"2016-03-13","pct":46.5},{"series":"Obama 2008","date":"2016-03-14","pct":47.3},{"series":"Obama 2008","date":"2016-03-15","pct":43.2},{"series":"Obama 2008","date":"2016-03-16","pct":43.0},{"series":"Obama 2008","date":"2016-03-18","pct":42.3},{"series":"Obama 2008","date":"2016-03-20","pct":41.1},{"series":"Obama 2008","date":"2016-03-22","pct":42.8},{"series":"Obama 2008","date":"2016-03-23","pct":43.8},{"series":"Obama 2008","date":"2016-03-25","pct":43.6},{"series":"Obama 2008","date":"2016-03-27","pct":45.3},{"series":"Obama 2008","date":"2016-03-29","pct":45.8},{"series":"Obama 2008","date":"2016-03-31","pct":46.3},{"series":"Obama 2008","date":"2016-04-02","pct":47.3},{"series":"Obama 2008","date":"2016-04-04","pct":48.2},{"series":"Obama 2008","date":"2016-04-07","pct":49.0},{"series":"Obama 2008","date":"2016-04-09","pct":49.4},{"series":"Obama 2008","date":"2016-04-10","pct":48.6},{"series":"Obama 2008","date":"2016-04-12","pct":47.5},{"series":"Obama 2008","date":"2016-04-14","pct":45.7},{"series":"Obama 2008","date":"2016-04-16","pct":44.0},{"series":"Obama 2008","date":"2016-04-17","pct":46.1},{"series":"Obama 2008","date":"2016-04-19","pct":47.5},{"series":"Obama 2008","date":"2016-04-21","pct":46.3},{"series":"Obama 2008","date":"2016-04-23","pct":45.7},{"series":"Obama 2008","date":"2016-04-25","pct":45.2},{"series":"Obama 2008","date":"2016-04-26","pct":44.8},{"series":"Obama 2008","date":"2016-04-27","pct":44.2},{"series":"Obama 2008","date":"2016-04-28","pct":43.3},{"series":"Obama 2008","date":"2016-04-29","pct":42.5},{"series":"Obama 2008","date":"2016-05-01","pct":40.7},{"series":"Obama 2008","date":"2016-05-02","pct":39.4},{"series":"Obama 2008","date":"2016-05-03","pct":39.0},{"series":"Obama 2008","date":"2016-05-05","pct":40.7},{"series":"Obama 2008","date":"2016-05-06","pct":42.0},{"series":"Obama 2008","date":"2016-05-07","pct":51.0},{"series":"Obama 2008","date":"2016-05-08","pct":53.6},{"series":"Obama 2008","date":"2016-05-10","pct":55.3},{"series":"Obama 2008","date":"2016-05-12","pct":56.3},{"series":"Obama 2008","date":"2016-05-13","pct":55.3},{"series":"Obama 2008","date":"2016-05-15","pct":56.3},{"series":"Obama 2008","date":"2016-05-17","pct":55.8},{"series":"Obama 2008","date":"2016-05-20","pct":56.5},{"series":"Obama 2008","date":"2016-05-22","pct":57.3},{"series":"Obama 2008","date":"2016-05-25","pct":58.6},{"series":"Obama 2008","date":"2016-05-28","pct":59.4},{"series":"Obama 2008","date":"2016-05-30","pct":59.8},{"series":"Obama 2008","date":"2016-06-01","pct":61.1},{"series":"Obama 2008","date":"2016-06-02","pct":61.1},{"series":"Obama 2008","date":"2016-06-04","pct":63.8},{"series":"Obama 2008","date":"2016-06-05","pct":62.3},{"series":"Obama 2008","date":"2016-06-07","pct":62.8},{"series":"Obama 2008","date":"2016-06-09","pct":63.0},{"series":"Obama 2008","date":"2016-06-11","pct":62.3},{"series":"Obama 2008","date":"2016-06-13","pct":61.9},{"series":"Obama 2008","date":"2016-06-15","pct":61.9},{"series":"Obama 2008","date":"2016-06-16","pct":61.1},{"series":"Obama 2008","date":"2016-06-18","pct":61.9},{"series":"Obama 2008","date":"2016-06-20","pct":62.8},{"series":"Obama 2008","date":"2016-06-22","pct":63.3},{"series":"Obama 2008","date":"2016-06-23","pct":64.4},{"series":"Obama 2008","date":"2016-06-25","pct":65.7},{"series":"Obama 2008","date":"2016-06-27","pct":66.1},{"series":"Obama 2008","date":"2016-06-29","pct":66.6},{"series":"Obama 2008","date":"2016-06-30","pct":66.5},{"series":"Obama 2008","date":"2016-07-02","pct":66.9},{"series":"Obama 2008","date":"2016-07-03","pct":66.9},{"series":"Obama 2008","date":"2016-07-05","pct":67.2},{"series":"Obama 2008","date":"2016-07-07","pct":66.9},{"series":"Obama 2008","date":"2016-07-08","pct":67.3},{"series":"Obama 2008","date":"2016-07-10","pct":67.3},{"series":"Obama 2008","date":"2016-07-11","pct":69.4},{"series":"Obama 2008","date":"2016-07-13","pct":70.7},{"series":"Obama 2008","date":"2016-07-15","pct":69.8},{"series":"Obama 2008","date":"2016-07-16","pct":70.0},{"series":"Obama 2008","date":"2016-07-18","pct":69.8},{"series":"Obama 2008","date":"2016-07-19","pct":69.8},{"series":"Obama 2008","date":"2016-07-21","pct":70.0},{"series":"Obama 2008","date":"2016-07-23","pct":70.3},{"series":"Obama 2008","date":"2016-07-25","pct":69.8},{"series":"Obama 2008","date":"2016-07-26","pct":68.2},{"series":"Obama 2008","date":"2016-07-28","pct":68.0},{"series":"Obama 2008","date":"2016-07-30","pct":68.2},{"series":"Obama 2008","date":"2016-07-31","pct":65.7},{"series":"Obama 2008","date":"2016-08-02","pct":66.9},{"series":"Obama 2008","date":"2016-08-03","pct":64.4},{"series":"Obama 2008","date":"2016-08-05","pct":63.6},{"series":"Obama 2008","date":"2016-08-07","pct":64.4},{"series":"Obama 2008","date":"2016-08-09","pct":64.8},{"series":"Obama 2008","date":"2016-08-11","pct":65.3},{"series":"Obama 2008","date":"2016-08-13","pct":65.7},{"series":"Obama 2008","date":"2016-08-15","pct":65.3},{"series":"Obama 2008","date":"2016-08-17","pct":65.1},{"series":"Obama 2008","date":"2016-08-18","pct":65.3},{"series":"Obama 2008","date":"2016-08-19","pct":64.0},{"series":"Obama 2008","date":"2016-08-21","pct":61.1},{"series":"Obama 2008","date":"2016-08-22","pct":60.8},{"series":"Obama 2008","date":"2016-08-24","pct":61.9},{"series":"Obama 2008","date":"2016-08-26","pct":63.3},
{"series":"McCain 2008","date":"2016-01-01","pct":8.6},{"series":"McCain 2008","date":"2016-01-02","pct":7.9},{"series":"McCain 2008","date":"2016-01-03","pct":9.8},{"series":"McCain 2008","date":"2016-01-05","pct":10.8},{"series":"McCain 2008","date":"2016-01-06","pct":10.8},{"series":"McCain 2008","date":"2016-01-08","pct":13.2},{"series":"McCain 2008","date":"2016-01-09","pct":16.1},{"series":"McCain 2008","date":"2016-01-10","pct":15.0},{"series":"McCain 2008","date":"2016-01-11","pct":16.1},{"series":"McCain 2008","date":"2016-01-13","pct":16.5},{"series":"McCain 2008","date":"2016-01-14","pct":16.1},{"series":"McCain 2008","date":"2016-01-15","pct":17.3},{"series":"McCain 2008","date":"2016-01-16","pct":13.2},{"series":"McCain 2008","date":"2016-01-17","pct":14.8},{"series":"McCain 2008","date":"2016-01-18","pct":14.2},{"series":"McCain 2008","date":"2016-01-19","pct":16.5},{"series":"McCain 2008","date":"2016-01-21","pct":19.2},{"series":"McCain 2008","date":"2016-01-23","pct":18.8},{"series":"McCain 2008","date":"2016-01-24","pct":18.2},{"series":"McCain 2008","date":"2016-01-26","pct":18.2},{"series":"McCain 2008","date":"2016-01-27","pct":19.0},{"series":"McCain 2008","date":"2016-01-28","pct":20.7},{"series":"McCain 2008","date":"2016-01-29","pct":24.0},{"series":"McCain 2008","date":"2016-01-30","pct":28.2},{"series":"McCain 2008","date":"2016-01-31","pct":32.5},{"series":"McCain 2008","date":"2016-02-01","pct":32.8},{"series":"McCain 2008","date":"2016-02-03","pct":33.2},{"series":"McCain 2008","date":"2016-02-04","pct":32.3},{"series":"McCain 2008","date":"2016-02-05","pct":33.6},{"series":"McCain 2008","date":"2016-02-06","pct":32.8},{"series":"McCain 2008","date":"2016-02-07","pct":33.8},{"series":"McCain 2008","date":"2016-02-09","pct":33.8},{"series":"McCain 2008","date":"2016-02-10","pct":31.5},{"series":"McCain 2008","date":"2016-02-12","pct":30.5},{"series":"McCain 2008","date":"2016-02-13","pct":30.8},{"series":"McCain 2008","date":"2016-02-15","pct":31.5},{"series":"McCain 2008","date":"2016-02-18","pct":31.9},{"series":"McCain 2008","date":"2016-02-20","pct":31.9},{"series":"McCain 2008","date":"2016-02-22","pct":32.3},{"series":"McCain 2008","date":"2016-02-24","pct":32.8},{"series":"McCain 2008","date":"2016-02-26","pct":33.2},{"series":"McCain 2008","date":"2016-02-28","pct":33.4},{"series":"McCain 2008","date":"2016-03-02","pct":34.0},{"series":"McCain 2008","date":"2016-03-05","pct":34.4},{"series":"McCain 2008","date":"2016-03-07","pct":34.2},{"series":"McCain 2008","date":"2016-03-10","pct":34.2},{"series":"McCain 2008","date":"2016-03-13","pct":33.6},{"series":"McCain 2008","date":"2016-03-15","pct":35.0},{"series":"McCain 2008","date":"2016-03-17","pct":35.7},{"series":"McCain 2008","date":"2016-03-21","pct":36.1},{"series":"McCain 2008","date":"2016-03-24","pct":36.7},{"series":"McCain 2008","date":"2016-03-25","pct":37.3},{"series":"McCain 2008","date":"2016-03-27","pct":36.9},{"series":"McCain 2008","date":"2016-03-29","pct":37.5},{"series":"McCain 2008","date":"2016-03-30","pct":36.9},{"series":"McCain 2008","date":"2016-04-01","pct":36.5},{"series":"McCain 2008","date":"2016-04-03","pct":37.2},{"series":"McCain 2008","date":"2016-04-06","pct":37.3},{"series":"McCain 2008","date":"2016-04-08","pct":36.9},{"series":"McCain 2008","date":"2016-04-10","pct":36.5},{"series":"McCain 2008","date":"2016-04-12","pct":37.3},{"series":"McCain 2008","date":"2016-04-14","pct":37.5},{"series":"McCain 2008","date":"2016-04-16","pct":37.3},{"series":"McCain 2008","date":"2016-04-18","pct":37.2},{"series":"McCain 2008","date":"2016-04-20","pct":36.7},{"series":"McCain 2008","date":"2016-04-23","pct":37.5},{"series":"McCain 2008","date":"2016-04-25","pct":38.0},{"series":"McCain 2008","date":"2016-04-27","pct":38.2},{"series":"McCain 2008","date":"2016-04-28","pct":37.8},{"series":"McCain 2008","date":"2016-04-30","pct":38.4},{"series":"McCain 2008","date":"2016-05-01","pct":33.2},{"series":"McCain 2008","date":"2016-05-02","pct":37.3},{"series":"McCain 2008","date":"2016-05-03","pct":36.9},{"series":"McCain 2008","date":"2016-05-05","pct":36.7},{"series":"McCain 2008","date":"2016-05-07","pct":36.1},{"series":"McCain 2008","date":"2016-05-09","pct":35.3},{"series":"McCain 2008","date":"2016-05-11","pct":35.5},{"series":"McCain 2008","date":"2016-05-13","pct":35.3},{"series":"McCain 2008","date":"2016-05-15","pct":35.0},{"series":"McCain 2008","date":"2016-05-17","pct":34.8},{"series":"McCain 2008","date":"2016-05-19","pct":34.4},{"series":"McCain 2008","date":"2016-05-22","pct":34.2},{"series":"McCain 2008","date":"2016-05-25","pct":33.8},{"series":"McCain 2008","date":"2016-05-28","pct":33.3},{"series":"McCain 2008","date":"2016-05-30","pct":32.8},{"series":"McCain 2008","date":"2016-06-01","pct":33.2},{"series":"McCain 2008","date":"2016-06-03","pct":33.0},{"series":"McCain 2008","date":"2016-06-05","pct":33.6},{"series":"McCain 2008","date":"2016-06-07","pct":34.0},{"series":"McCain 2008","date":"2016-06-10","pct":33.8},{"series":"McCain 2008","date":"2016-06-12","pct":33.6},{"series":"McCain 2008","date":"2016-06-14","pct":33.3},{"series":"McCain 2008","date":"2016-06-16","pct":33.6},{"series":"McCain 2008","date":"2016-06-18","pct":33.0},{"series":"McCain 2008","date":"2016-06-20","pct":32.5},{"series":"McCain 2008","date":"2016-06-21","pct":31.9},{"series":"McCain 2008","date":"2016-06-23","pct":31.7},{"series":"McCain 2008","date":"2016-06-24","pct":31.1},{"series":"McCain 2008","date":"2016-06-26","pct":30.7},{"series":"McCain 2008","date":"2016-06-28","pct":31.0},{"series":"McCain 2008","date":"2016-06-29","pct":30.3},{"series":"McCain 2008","date":"2016-07-01","pct":29.7},{"series":"McCain 2008","date":"2016-07-03","pct":29.8},{"series":"McCain 2008","date":"2016-07-05","pct":30.3},{"series":"McCain 2008","date":"2016-07-07","pct":30.0},{"series":"McCain 2008","date":"2016-07-09","pct":29.8},{"series":"McCain 2008","date":"2016-07-11","pct":28.3},{"series":"McCain 2008","date":"2016-07-12","pct":28.2},{"series":"McCain 2008","date":"2016-07-14","pct":26.9},{"series":"McCain 2008","date":"2016-07-16","pct":26.9},{"series":"McCain 2008","date":"2016-07-18","pct":26.5},{"series":"McCain 2008","date":"2016-07-20","pct":26.9},{"series":"McCain 2008","date":"2016-07-22","pct":26.9},{"series":"McCain 2008","date":"2016-07-24","pct":26.7},{"series":"McCain 2008","date":"2016-07-26","pct":27.8},{"series":"McCain 2008","date":"2016-07-27","pct":28.3},{"series":"McCain 2008","date":"2016-07-29","pct":29.8},{"series":"McCain 2008","date":"2016-07-31","pct":30.5},{"series":"McCain 2008","date":"2016-08-01","pct":31.1},{"series":"McCain 2008","date":"2016-08-03","pct":30.8},{"series":"McCain 2008","date":"2016-08-04","pct":31.5},{"series":"McCain 2008","date":"2016-08-06","pct":32.3},{"series":"McCain 2008","date":"2016-08-08","pct":33.2},{"series":"McCain 2008","date":"2016-08-09","pct":31.9},{"series":"McCain 2008","date":"2016-08-11","pct":31.5},{"series":"McCain 2008","date":"2016-08-14","pct":31.3},{"series":"McCain 2008","date":"2016-08-16","pct":31.3},{"series":"McCain 2008","date":"2016-08-18","pct":31.7},{"series":"McCain 2008","date":"2016-08-19","pct":31.9},{"series":"McCain 2008","date":"2016-08-20","pct":34.0},{"series":"McCain 2008","date":"2016-08-22","pct":36.1},{"series":"McCain 2008","date":"2016-08-23","pct":35.7},{"series":"McCain 2008","date":"2016-08-24","pct":34.8},{"series":"McCain 2008","date":"2016-08-26","pct":34.0}
]},
"encoding": {
  "x": {"field": "date", "type": "temporal",
    "scale": {"type": "utc", "domain": [{"year": 2015, "month": 12, "date": 28, "hours": 23, "minutes": 17, "utc": true}, {"year": 2016, "month": 8, "date": 28, "hours": 16, "utc": true}]},
    "axis": {"values": [
      {"year": 2016, "month": 1, "date": 5, "utc": true}, {"year": 2016, "month": 1, "date": 21, "utc": true},
      {"year": 2016, "month": 2, "date": 6, "utc": true}, {"year": 2016, "month": 2, "date": 22, "utc": true},
      {"year": 2016, "month": 3, "date": 9, "utc": true}, {"year": 2016, "month": 3, "date": 25, "utc": true},
      {"year": 2016, "month": 4, "date": 10, "utc": true}, {"year": 2016, "month": 4, "date": 25, "utc": true},
      {"year": 2016, "month": 5, "date": 11, "utc": true}, {"year": 2016, "month": 5, "date": 28, "utc": true},
      {"year": 2016, "month": 6, "date": 13, "utc": true}, {"year": 2016, "month": 6, "date": 29, "utc": true},
      {"year": 2016, "month": 7, "date": 14, "utc": true}, {"year": 2016, "month": 7, "date": 29, "utc": true},
      {"year": 2016, "month": 8, "date": 13, "utc": true}],
      "format": "%d-%b", "grid": false, "domain": false, "ticks": false, "labelFlush": false, "labelOverlap": false,
      "labelColor": "#8a8a8a", "labelFontSize": 12, "labelFont": "Roboto", "labelPadding": 12,
      "title": ["Note: Implied probability is derived from Betfair Exchange average matched prices, until Aug. 26 of each election year", "Source: Betfair Exchange-supplied data, analysed by Reuters (Aaron Saldanha)"],
      "titleAnchor": "start", "titleAlign": "left", "titleFont": "Roboto", "titleFontSize": 10.6, "titleFontWeight": "normal", "titleColor": "#777777", "titleLineHeight": 18, "titlePadding": 29}},
  "y": {"field": "pct", "type": "quantitative",
    "scale": {"domain": [6, 82], "nice": false, "zero": false},
    "axis": {"orient": "right", "values": [10, 20, 30, 40, 50, 60, 70, 80], "grid": true, "gridColor": "#d2d2d2", "gridWidth": 1.2, "domain": false, "ticks": false, "labelColor": "#8a8a8a", "labelFontSize": 12, "labelFont": "Roboto", "labelPadding": 5, "title": null}}
},
"layer": [
  {"mark": {"type": "line", "strokeWidth": 2},
   "encoding": {"color": {"field": "series", "type": "nominal",
     "scale": {"domain": ["Clinton 2016", "Trump 2016", "Obama 2012", "Romney 2012", "Obama 2008", "McCain 2008"], "range": ["#1f9de0", "#111111", "#1ba24b", "#f28d2b", "#f9d22e", "#dc2f2f"]},
     "legend": {"orient": "none", "legendX": 1, "legendY": -28, "direction": "horizontal", "title": null, "symbolType": "stroke", "symbolStrokeWidth": 2.5, "symbolSize": 196, "labelFontSize": 12, "labelFont": "Roboto", "labelColor": "#8a8a8a", "columnPadding": 3, "labelOffset": 5}}}},
  {"transform": [{"filter": {"field": "date", "equal": {"year": 2016, "month": 8, "date": 26, "utc": true}}}],
   "mark": {"type": "circle", "size": 75, "opacity": 1},
   "encoding": {"color": {"field": "series", "type": "nominal", "legend": null}}}
]
}
